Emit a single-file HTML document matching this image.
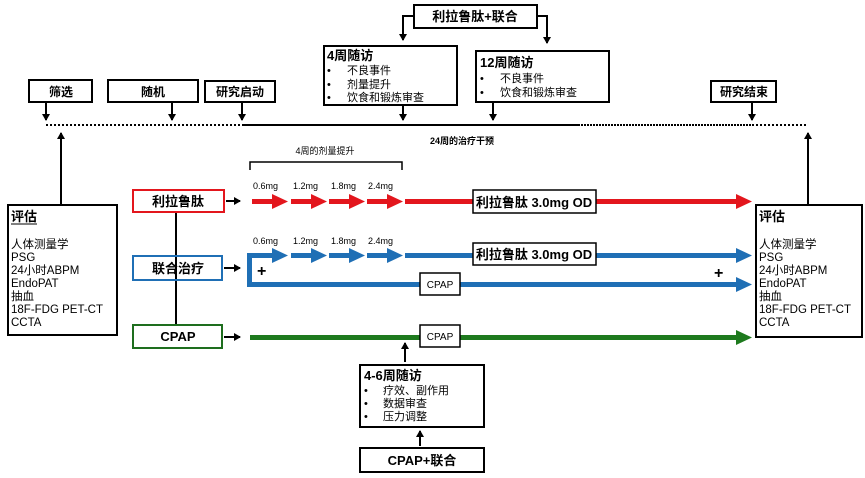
<!DOCTYPE html>
<html><head><meta charset="utf-8"><style>
html,body{margin:0;padding:0;background:#fff;width:865px;height:478px;overflow:hidden}
svg{display:block}
text{font-family:"Liberation Sans","Noto Sans CJK SC",sans-serif;fill:#000}
.b{font-weight:bold}
</style></head><body>
<svg width="865" height="478" viewBox="0 0 865 478" xmlns="http://www.w3.org/2000/svg">
<defs>
<marker id="ak" markerWidth="8" markerHeight="8" refX="6" refY="4" orient="auto" markerUnits="userSpaceOnUse"><path d="M0,0 L7,4 L0,8 z" fill="#000"/></marker>
</defs>
<g fill="none" stroke="#000" stroke-width="2">
<rect x="414" y="5" width="123" height="23"/>
<path d="M414,16 H403 V40" marker-end="url(#ak)"/>
<path d="M537,16 H547 V43" marker-end="url(#ak)"/>
<rect x="324" y="46" width="133" height="59"/>
<rect x="476" y="51" width="133" height="51"/>
<rect x="29" y="80" width="63" height="22"/>
<rect x="108" y="80" width="90" height="22"/>
<rect x="205" y="81" width="70" height="21"/>
<rect x="711" y="81" width="65" height="21"/>
<path d="M46,102 V120" marker-end="url(#ak)"/>
<path d="M172,102 V120" marker-end="url(#ak)"/>
<path d="M242,102 V120" marker-end="url(#ak)"/>
<path d="M403,105 V120" marker-end="url(#ak)"/>
<path d="M493,102 V120" marker-end="url(#ak)"/>
<path d="M752,102 V120" marker-end="url(#ak)"/>
<path d="M46,125 H242" stroke-dasharray="2,2"/>
<path d="M242,125 H578"/>
<path d="M578,125 H752" stroke-dasharray="2,1"/>
<path d="M752,125 H808" stroke-dasharray="2,2"/>
<path d="M61,205 V133" marker-end="url(#ak)"/>
<path d="M808,205 V133" marker-end="url(#ak)"/>
<path d="M250,170 V162 H402 V170" stroke-width="1.5"/>
<rect x="8" y="205" width="109" height="130"/>
<rect x="756" y="205" width="106" height="132"/>
<line x1="176" y1="212" x2="176" y2="325"/>
<path d="M226,201 H240" marker-end="url(#ak)"/>
<path d="M224,268 H240" marker-end="url(#ak)"/>
<path d="M224,337 H240" marker-end="url(#ak)"/>
<path d="M405,362 V343" marker-end="url(#ak)"/>
<path d="M420,446 V431" marker-end="url(#ak)"/>
<rect x="360" y="365" width="124" height="62"/>
<rect x="360" y="448" width="124" height="24"/>
</g>
<rect x="133" y="190" width="91" height="22" fill="none" stroke="#e3161d" stroke-width="2"/>
<rect x="133" y="256" width="89" height="24" fill="none" stroke="#1f6fb5" stroke-width="2"/>
<rect x="133" y="325" width="89" height="23" fill="none" stroke="#1e6e1e" stroke-width="2"/>
<g fill="#e3161d">
<rect x="252" y="199" width="22" height="5"/><path d="M272,194 L288,201.5 L272,209z"/>
<rect x="291" y="199" width="22" height="5"/><path d="M311,194 L327,201.5 L311,209z"/>
<rect x="329" y="199" width="22" height="5"/><path d="M349,194 L365,201.5 L349,209z"/>
<rect x="367" y="199" width="22" height="5"/><path d="M387,194 L403,201.5 L387,209z"/>
<rect x="405" y="199" width="338" height="5"/><path d="M736,194 L752,201.5 L736,209z"/>
</g>
<g fill="#1f6fb5">
<rect x="247" y="253" width="27" height="5"/><path d="M272,248 L288,255.5 L272,263z"/>
<rect x="291" y="253" width="22" height="5"/><path d="M311,248 L327,255.5 L311,263z"/>
<rect x="329" y="253" width="22" height="5"/><path d="M349,248 L365,255.5 L349,263z"/>
<rect x="367" y="253" width="22" height="5"/><path d="M387,248 L403,255.5 L387,263z"/>
<rect x="405" y="253" width="338" height="5"/><path d="M736,248 L752,255.5 L736,263z"/>
<rect x="247" y="253" width="5" height="34"/>
<rect x="247" y="282" width="496" height="5"/><path d="M736,277 L752,284.5 L736,292z"/>
</g>
<g fill="#1e7a1e">
<rect x="250" y="335" width="493" height="5"/><path d="M736,330 L752,337.5 L736,345z"/>
</g>
<g fill="#fff" stroke="#000" stroke-width="1.5">
<rect x="473" y="190" width="123" height="23"/>
<rect x="473" y="243" width="123" height="22"/>
<rect x="420" y="273" width="40" height="22"/>
<rect x="420" y="325" width="40" height="22"/>
</g>
<g class="b" font-size="12">
<text x="475" y="21" text-anchor="middle" class="b" font-size="13">利拉鲁肽+联合</text>
<text x="327" y="60" class="b" font-size="13">4周随访</text>
<text x="480" y="67" class="b" font-size="13">12周随访</text>
<text x="61" y="96" text-anchor="middle" class="b">筛选</text>
<text x="153" y="96" text-anchor="middle" class="b">随机</text>
<text x="240" y="96" text-anchor="middle" class="b">研究启动</text>
<text x="744" y="96" text-anchor="middle" class="b">研究结束</text>
<text x="178" y="206" text-anchor="middle" class="b" font-size="13">利拉鲁肽</text>
<text x="178" y="273" text-anchor="middle" class="b" font-size="13">联合治疗</text>
<text x="178" y="341" text-anchor="middle" class="b" font-size="13">CPAP</text>
<text x="534" y="207" text-anchor="middle" class="b" font-size="13">利拉鲁肽 3.0mg OD</text>
<text x="534" y="259" text-anchor="middle" class="b" font-size="13">利拉鲁肽 3.0mg OD</text>
<text x="364" y="380" class="b" font-size="13">4-6周随访</text>
<text x="422" y="465" text-anchor="middle" class="b" font-size="13">CPAP+联合</text>
<text x="11" y="221" class="b" font-size="13">评估</text>
<text x="759" y="221" class="b" font-size="13">评估</text>
<text x="462" y="144" text-anchor="middle" class="b" font-size="9">24周的治疗干预</text>
</g>
<line x1="11" y1="224" x2="37" y2="224" stroke="#000" stroke-width="1"/>
<g font-size="11">
<text x="327" y="74">•</text><text x="347" y="74">不良事件</text>
<text x="327" y="88">•</text><text x="347" y="88">剂量提升</text>
<text x="327" y="101">•</text><text x="347" y="101">饮食和锻炼审查</text>
<text x="480" y="82">•</text><text x="500" y="82">不良事件</text>
<text x="480" y="96">•</text><text x="500" y="96">饮食和锻炼审查</text>
<text x="364" y="394">•</text><text x="383" y="394">疗效、副作用</text>
<text x="364" y="407">•</text><text x="383" y="407">数据审查</text>
<text x="364" y="420">•</text><text x="383" y="420">压力调整</text>
<text x="440" y="288" text-anchor="middle" font-size="10">CPAP</text>
<text x="440" y="340" text-anchor="middle" font-size="10">CPAP</text>
<text x="325" y="154" text-anchor="middle" font-size="9">4周的剂量提升</text>
</g>
<g font-size="9">
<text x="253" y="189">0.6mg</text><text x="293" y="189">1.2mg</text><text x="331" y="189">1.8mg</text><text x="368" y="189">2.4mg</text>
<text x="253" y="244">0.6mg</text><text x="293" y="244">1.2mg</text><text x="331" y="244">1.8mg</text><text x="368" y="244">2.4mg</text>
</g>
<g class="b" font-size="16"><text x="257" y="276">+</text><text x="714" y="278">+</text></g>
<g font-size="11.5">
<text x="11" y="248">人体测量学</text><text x="11" y="261">PSG</text><text x="11" y="274">24小时ABPM</text><text x="11" y="287">EndoPAT</text><text x="11" y="300">抽血</text><text x="11" y="313">18F-FDG PET-CT</text><text x="11" y="326">CCTA</text>
<text x="759" y="248">人体测量学</text><text x="759" y="261">PSG</text><text x="759" y="274">24小时ABPM</text><text x="759" y="287">EndoPAT</text><text x="759" y="300">抽血</text><text x="759" y="313">18F-FDG PET-CT</text><text x="759" y="326">CCTA</text>
</g>
</svg>
</body></html>
